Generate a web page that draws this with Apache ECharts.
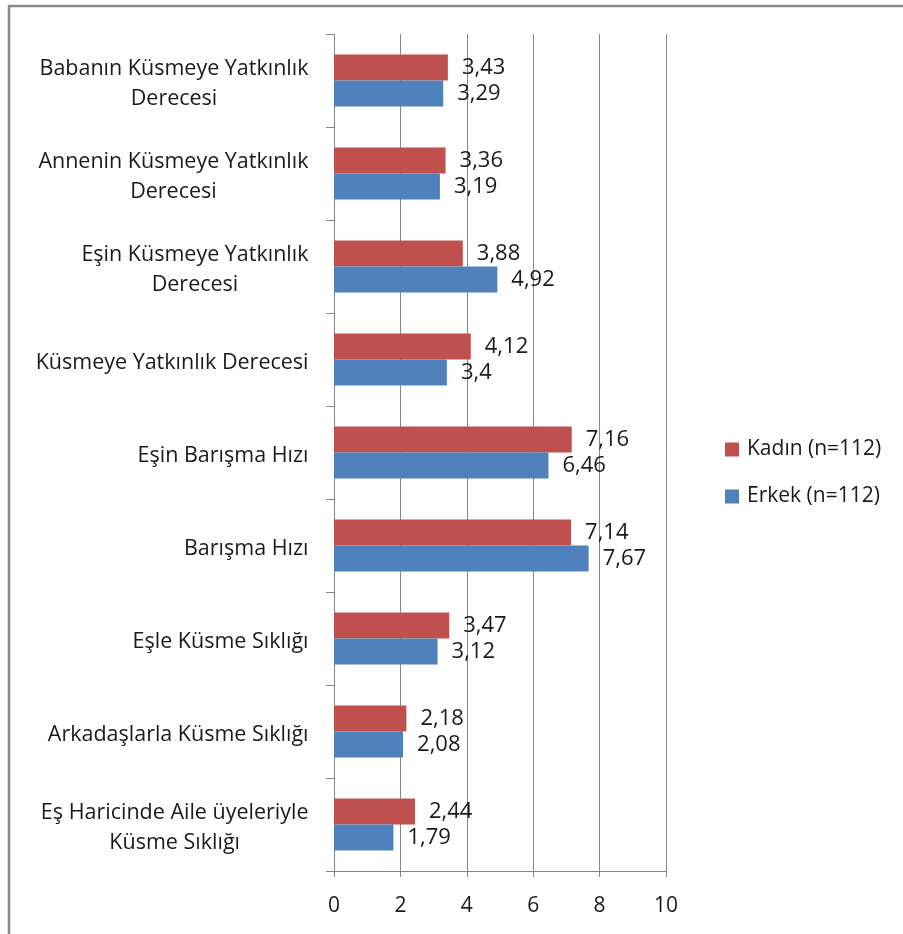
<!DOCTYPE html>
<html><head><meta charset="utf-8">
<script src="https://cdn.jsdelivr.net/npm/echarts@6/dist/echarts.min.js"></script>
<style>html,body{margin:0;padding:0;background:#fff}#c{width:903px;height:934px}</style>
</head><body><div id="c"></div>
<script>
const categories = [
  "Babanın Küsmeye Yatkınlık\nDerecesi",
  "Annenin Küsmeye Yatkınlık\nDerecesi",
  "Eşin Küsmeye Yatkınlık\nDerecesi",
  "Küsmeye Yatkınlık Derecesi",
  "Eşin Barışma Hızı",
  "Barışma Hızı",
  "Eşle Küsme Sıklığı",
  "Arkadaşlarla Küsme Sıklığı",
  "Eş Haricinde Aile üyeleriyle\nKüsme Sıklığı"
];
const kadin = [3.43, 3.36, 3.88, 4.12, 7.16, 7.14, 3.47, 2.18, 2.44];
const erkek = [3.29, 3.19, 4.92, 3.4, 6.46, 7.67, 3.12, 2.08, 1.79];
const seriesNames = ["Kadın (n=112)", "Erkek (n=112)"];
const xTicks = [0, 2, 4, 6, 8, 10];

const FONT = "'Open Sans', 'Noto Sans', sans-serif";
const CAT_SIZE = 21.5;
const cv = document.createElement('canvas').getContext('2d');
cv.font = CAT_SIZE + "px 'Open Sans'";
const rich = {};
categories.forEach((c, i) => {
  const w = Math.max(...c.split('\n').map(l => cv.measureText(l).width)) + 1;
  rich['w' + i] = { width: w, align: 'center', fontSize: CAT_SIZE, fontFamily: FONT, color: '#1a1a1a', lineHeight: 30 };
});

const chart = echarts.init(document.getElementById('c'));
const labelFmt = p => String(p.value).replace('.', ',');
const lbl = { show: true, position: 'right', distance: 14, fontSize: 22, fontFamily: FONT, color: '#1a1a1a', formatter: labelFmt };
chart.setOption({
  animation: false,
  backgroundColor: '#fff',
  graphic: [{ type: 'rect', shape: { x: 9, y: 6, width: 1200, height: 1200 }, style: { fill: 'none', stroke: '#8a8a8a', lineWidth: 2.5 } }],
  legend: {
    data: seriesNames, orient: 'vertical', left: 720, top: 434, itemWidth: 14, itemHeight: 14, itemGap: 26,
    icon: 'rect',
    textStyle: { fontSize: 21, fontFamily: FONT, color: '#1a1a1a', padding: [0, 0, 0, 3] }
  },
  grid: { left: 334, top: 34, right: 237, bottom: 63 },
  xAxis: {
    type: 'value', min: 0, max: 10, interval: 2,
    axisLine: { show: true, lineStyle: { color: '#868686' } },
    axisTick: { show: true, length: 6, lineStyle: { color: '#868686' } },
    splitLine: { show: true, lineStyle: { color: '#868686' } },
    axisLabel: { fontSize: 21, fontFamily: FONT, color: '#1a1a1a', margin: 25,
      formatter: v => xTicks.includes(v) ? String(v) : '' }
  },
  yAxis: {
    type: 'category', data: categories, inverse: true,
    axisLine: { show: true, lineStyle: { color: '#868686' } },
    axisTick: { show: true, length: 8, lineStyle: { color: '#868686' } },
    axisLabel: { margin: 25, fontSize: CAT_SIZE, fontFamily: FONT, color: '#1a1a1a', padding: [7, 0, 0, 0],
      formatter: (v, i) => v.split('\n').map(l => '{w' + i + '|' + l + '}').join('\n'),
      rich: rich }
  },
  series: [
    { name: seriesNames[0], type: 'bar', data: kadin, itemStyle: { color: '#C0504D' }, barGap: '0%', barCategoryGap: '44%', label: lbl },
    { name: seriesNames[1], type: 'bar', data: erkek, itemStyle: { color: '#4F81BD' }, barGap: '0%', barCategoryGap: '44%', label: lbl }
  ]
});
</script></body></html>
